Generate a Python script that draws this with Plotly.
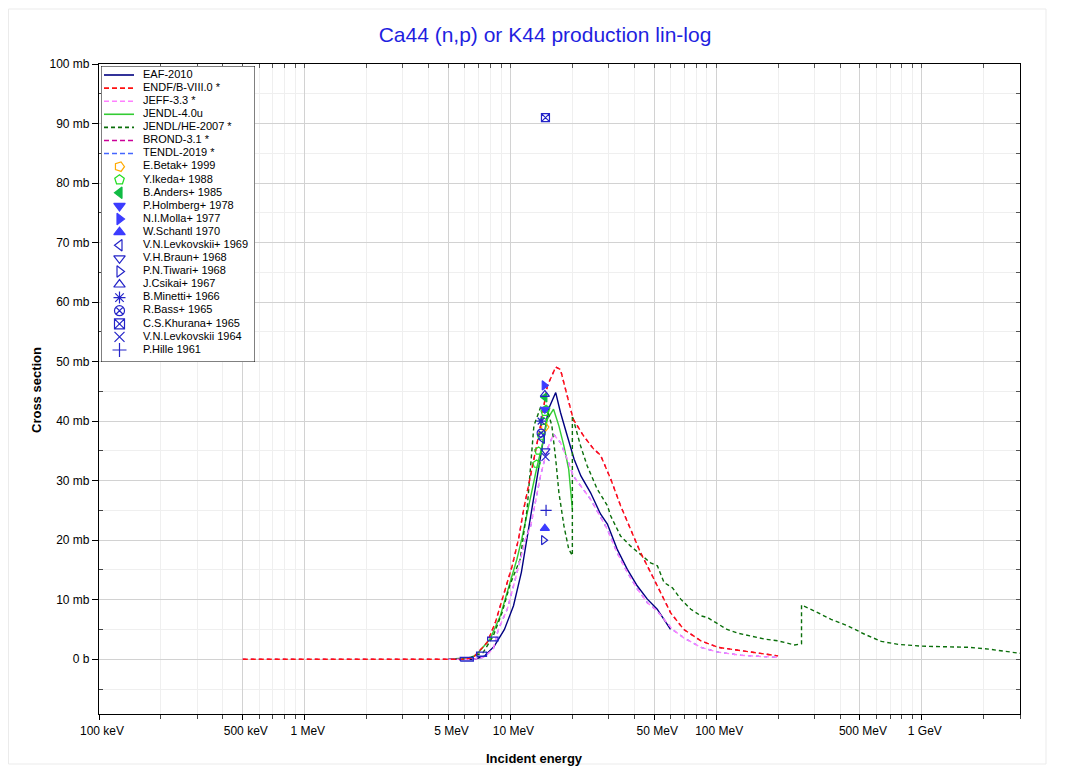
import plotly.graph_objects as go

# ---------------- evaluated data (E in MeV, cross section in mb) ----------------
eaf_E = [5.0, 5.77, 6.67, 7.46, 8.35, 9.35, 10.35, 11.3, 12.7, 14.2, 15.3, 16.6, 17.5, 18.9, 20.4, 22.0, 24.5, 27.4, 29.6, 33.0, 37.0, 41.4, 46.3, 51.7, 56.0, 60.0]
eaf_S = [0, 0, 0, 0.5, 2.2, 5.0, 9.0, 14.6, 25.2, 34.8, 42.0, 44.8, 41.5, 37.5, 33.6, 30.8, 28.0, 24.4, 22.7, 18.5, 15.1, 12.3, 10.1, 8.4, 6.6, 5.0]

endf_E = [0.5, 6.0, 6.6, 7.7, 8.45, 9.25, 10.2, 10.95, 11.6, 13.0, 14.0, 15.1, 16.6, 17.5, 18.9, 20.2, 22.7, 25.4, 27.4, 30.7, 34.3, 38.4, 42.9, 48.0, 53.8, 60.1, 69.6, 84.3, 102, 132, 200]
endf_S = [0, 0, 0.3, 2.8, 6.2, 10.6, 15.7, 20.2, 25.2, 33.6, 39.2, 45.9, 49.1, 48.7, 44.3, 40.3, 37.5, 35.3, 34.3, 30.3, 25.8, 21.8, 17.9, 14.6, 11.2, 7.8, 5.0, 3.1, 2.0, 1.4, 0.56]

jeff_E = [5.0, 6.6, 7.36, 8.25, 8.73, 9.65, 10.55, 11.15, 11.85, 12.55, 14.0, 15.1, 16.2, 17.5, 18.9, 20.2, 22.0, 24.5, 27.4, 29.6, 33.0, 37.0, 41.4, 46.3, 51.7, 61.3, 69.6, 84.3, 102, 132, 200]
jeff_S = [0, 0, 0.3, 1.7, 5.0, 8.4, 13.4, 16.8, 20.2, 22.4, 30.8, 35.3, 37.8, 36.4, 33.6, 30.8, 29.1, 26.9, 23.9, 21.8, 17.9, 14.6, 11.8, 9.5, 8.1, 5.0, 3.6, 2.0, 1.2, 0.67, 0.3]

jendl4_E = [5.5, 6.3, 6.86, 7.96, 8.93, 9.75, 10.75, 11.35, 12.05, 13.4, 14.5, 15.1, 16.2, 17.2, 18.2, 19.2, 20.0]
jendl4_S = [0, 0.1, 0.8, 3.4, 7.3, 11.8, 16.8, 20.2, 24.5, 32.0, 37.0, 40.3, 42.0, 39.2, 35.8, 31.9, 25.2]

jendlhe_E = [5.0, 6.4, 7.36, 8.25, 9.1, 9.95, 11.15, 12.05, 13.0, 14.0, 15.1, 15.9, 16.6, 17.2, 18.2, 19.2, 20.0, 20.0, 21.9, 23.6, 26.4, 29.6, 30.7, 34.3, 38.4, 42.9, 48.0, 51.8, 55.8, 61.3, 67.3, 75.3, 84.3, 90.8, 102, 113, 127, 148, 171, 199, 223, 241, 260, 260, 300, 362, 437, 527, 635, 766, 995, 1345, 1685, 2110, 2640, 3000]
jendlhe_S = [0, 0.3, 1.1, 3.9, 7.8, 12.5, 16.8, 25.2, 39.2, 42.3, 42.0, 39.2, 33.6, 28.0, 22.4, 18.5, 17.4, 40.9, 35.9, 32.5, 28.6, 25.8, 24.1, 20.7, 19.0, 17.6, 16.2, 15.7, 12.9, 12.0, 10.1, 8.4, 7.3, 7.0, 5.9, 5.0, 4.4, 3.9, 3.4, 3.1, 2.7, 2.4, 2.6, 9.1, 8.1, 6.7, 5.6, 4.2, 3.0, 2.5, 2.2, 2.1, 2.0, 1.7, 1.3, 1.0]

brond_E = endf_E
brond_S = endf_S
tendl_E = jeff_E
tendl_S = jeff_S

# ---------------- experimental data (E in MeV, cross section in mb) ----------------
betak_E, betak_S = [14.7], [39.0]
ikeda_E, ikeda_S = [13.4, 13.7, 14.1, 14.4, 14.7, 14.9], [32.8, 35.0, 37.5, 40.0, 41.5, 42.0]
anders_E, anders_S = [14.7], [44.0]
holmberg_E, holmberg_S = [14.7], [42.0]
molla_E, molla_S = [14.6], [46.0]
schantl_E, schantl_S = [14.7], [22.0]
levk69_E, levk69_S = [14.3], [37.0]
braun_E, braun_S = [14.8], [35.0]
tiwari_E, tiwari_S = [14.5], [20.0]
csikai_E, csikai_S = [14.7], [44.5]
minetti_E, minetti_S = [14.1], [40.0]
bass_E, bass_S = [14.1], [38.0]
khurana_E, khurana_S = [14.8], [91.0]
levk64_E, levk64_S = [14.8], [34.0]
hille_E, hille_S = [14.9], [25.0]

# energy-range boxes near threshold (E low, E high, sigma low, sigma high)
box_Elo = [5.7, 6.85, 7.75]
box_Ehi = [6.6, 7.65, 8.7]
box_Slo = [-0.3, 0.5, 3.1]
box_Shi = [0.3, 1.2, 3.7]

x_tickvals = [0.1, 0.5, 1, 5, 10, 50, 100, 500, 1000]
x_ticktext = ["100 keV", "500 keV", "1 MeV", "5 MeV", "10 MeV", "50 MeV", "100 MeV", "500 MeV", "1 GeV"]
y_tickvals = [0, 10, 20, 30, 40, 50, 60, 70, 80, 90, 100]
y_ticktext = ["0 b", "10 mb", "20 mb", "30 mb", "40 mb", "50 mb", "60 mb", "70 mb", "80 mb", "90 mb", "100 mb"]
y_minor = [-5, 5, 15, 25, 35, 45, 55, 65, 75, 85, 95]

FONT = "Liberation Sans, Arial, sans-serif"

eval_series = [
    ("EAF-2010", eaf_E, eaf_S, "#000080", "solid"),
    ("ENDF/B-VIII.0 *", endf_E, endf_S, "#ff1010", "5px,3px"),
    ("JEFF-3.3 *", jeff_E, jeff_S, "#ff80ff", "5px,3px"),
    ("JENDL-4.0u", jendl4_E, jendl4_S, "#33cc33", "solid"),
    ("JENDL/HE-2007 *", jendlhe_E, jendlhe_S, "#0a6e0a", "4px,3px"),
    ("BROND-3.1 *", brond_E, brond_S, "#cc0099", "5px,3px"),
    ("TENDL-2019 *", tendl_E, tendl_S, "#4466ff", "5px,3px"),
]
plot_dash = {5: "3px,5px", 6: "3px,5px"}
draw_order = [6, 5, 0, 3, 4, 2, 1]

OPEN_BLUE = "#2424c8"
FILL_BLUE = "#3c3cff"
exp_series = [
    ("E.Betak+ 1999", betak_E, betak_S, "#ffaa00", "pentagon-open", 90),
    ("Y.Ikeda+ 1988", ikeda_E, ikeda_S, "#22dd22", "pentagon-open", 0),
    ("B.Anders+ 1985", anders_E, anders_S, "#11bb44", "triangle-left", 0),
    ("P.Holmberg+ 1978", holmberg_E, holmberg_S, FILL_BLUE, "triangle-down", 0),
    ("N.I.Molla+ 1977", molla_E, molla_S, FILL_BLUE, "triangle-right", 0),
    ("W.Schantl 1970", schantl_E, schantl_S, FILL_BLUE, "triangle-up", 0),
    ("V.N.Levkovskii+ 1969", levk69_E, levk69_S, OPEN_BLUE, "triangle-left-open", 0),
    ("V.H.Braun+ 1968", braun_E, braun_S, OPEN_BLUE, "triangle-down-open", 0),
    ("P.N.Tiwari+ 1968", tiwari_E, tiwari_S, OPEN_BLUE, "triangle-right-open", 0),
    ("J.Csikai+ 1967", csikai_E, csikai_S, OPEN_BLUE, "triangle-up-open", 0),
    ("B.Minetti+ 1966", minetti_E, minetti_S, OPEN_BLUE, "asterisk-open", 0),
    ("R.Bass+ 1965", bass_E, bass_S, OPEN_BLUE, "circle-x-open", 0),
    ("C.S.Khurana+ 1965", khurana_E, khurana_S, OPEN_BLUE, "square-x-open", 0),
    ("V.N.Levkovskii 1964", levk64_E, levk64_S, OPEN_BLUE, "x-thin-open", 0),
    ("P.Hille 1961", hille_E, hille_S, OPEN_BLUE, "cross-thin-open", 0),
]

fig = go.Figure()

for i in draw_order:
    name, E, S, col, dash = eval_series[i]
    fig.add_trace(go.Scatter(x=E, y=S, mode="lines", name=name, showlegend=False,
                             line=dict(color=col, width=1.4, dash=plot_dash.get(i, dash)),
                             xaxis="x", yaxis="y"))

for lo, hi, slo, shi in zip(box_Elo, box_Ehi, box_Slo, box_Shi):
    fig.add_trace(go.Scatter(x=[lo, hi, hi, lo, lo], y=[slo, slo, shi, shi, slo], mode="lines",
                             showlegend=False, line=dict(color=OPEN_BLUE, width=1.3),
                             xaxis="x", yaxis="y"))

for name, E, S, col, sym, ang in exp_series:
    fig.add_trace(go.Scatter(x=E, y=S, mode="markers", name=name, showlegend=False,
                             marker=dict(symbol=sym, size=8, color=col, angle=ang,
                                         line=dict(color=col, width=1.2)),
                             xaxis="x", yaxis="y"))

# empty trace so the top/right tick-only axes exist
fig.add_trace(go.Scatter(x=[None], y=[None], mode="markers", showlegend=False, hoverinfo="skip",
                         xaxis="x2", yaxis="y2"))

# ---------------- hand-built legend on its own axes ----------------
LX0, LX1, LY0, LY1 = 0, 154, -0.687, 21.917
fig.add_trace(go.Scatter(x=[LX0, LX1, LX1, LX0, LX0], y=[LY0, LY0, LY1, LY1, LY0], mode="lines",
                         fill="toself", fillcolor="white", line=dict(color="black", width=1),
                         showlegend=False, hoverinfo="skip", xaxis="x3", yaxis="y3"))
n_items = len(eval_series) + len(exp_series)
for k, (name, E, S, col, dash) in enumerate(eval_series):
    fig.add_trace(go.Scatter(x=[3, 33], y=[k, k], mode="lines", showlegend=False, hoverinfo="skip",
                             line=dict(color=col, width=1.6, dash=dash), xaxis="x3", yaxis="y3"))
for j, (name, E, S, col, sym, ang) in enumerate(exp_series):
    k = len(eval_series) + j
    fig.add_trace(go.Scatter(x=[18.5], y=[k], mode="markers", showlegend=False, hoverinfo="skip",
                             marker=dict(symbol=sym, size=10, color=col, angle=ang,
                                         line=dict(color=col, width=1.2)),
                             xaxis="x3", yaxis="y3"))
labels = [s[0] for s in eval_series] + [s[0] for s in exp_series]
fig.add_trace(go.Scatter(x=[42] * n_items, y=list(range(n_items)), mode="text", text=labels,
                         textposition="middle right", showlegend=False, hoverinfo="skip",
                         textfont=dict(family=FONT, size=11, color="black"),
                         xaxis="x3", yaxis="y3"))

grid_major = "#d2d2d2"
grid_minor = "#efefef"
x_minor = []
for dec in [0.1, 1, 10, 100, 1000]:
    for m in [2, 3, 4, 6, 7, 8, 9]:
        v = round(m * dec, 6)
        if v <= 3000:
            x_minor.append(v)

X_RANGE = [-1, 3.477]
Y_RANGE = [-9.2, 100]

# page body has an 8 px margin: figure is placed at (8, 8) in the window
FW, FH = 1051, 758
ML, MT, PW, PH = 91, 56, 921, 650
MR = FW - ML - PW
MB = FH - MT - PH


def px_x(sx):
    return (sx - 8 - ML) / PW


def px_y(sy):
    return 1 - (sy - 8 - MT) / PH


fig.update_layout(
    width=FW, height=FH,
    margin=dict(l=ML, r=MR, t=MT, b=MB),
    paper_bgcolor="white", plot_bgcolor="white",
    font=dict(family=FONT, size=12, color="black"),
    title=dict(text="Ca44 (n,p) or K44 production lin-log", x=(545 - 8) / FW, xref="container",
               xanchor="center", y=1 - (35 - 8) / FH, yref="container", yanchor="middle",
               font=dict(family=FONT, size=21, color="#1f1fe0")),
    xaxis=dict(type="log", range=X_RANGE, tickmode="array", tickvals=x_tickvals, ticktext=x_ticktext,
               ticks="outside", ticklen=5, tickcolor="black", showline=True, linecolor="black",
               linewidth=1.2, mirror=True, showgrid=True, gridcolor=grid_major, zeroline=False,
               tickfont=dict(size=12), ticklabelshift=3,
               minor=dict(tickmode="array", tickvals=x_minor, ticks="outside", ticklen=4,
                          tickcolor="#444", showgrid=True, gridcolor=grid_minor)),
    yaxis=dict(range=Y_RANGE, tickmode="array", tickvals=y_tickvals, ticktext=y_ticktext,
               ticks="outside", ticklen=6, tickcolor="black", showline=True, linecolor="black",
               linewidth=1.2, mirror=True, showgrid=True, gridcolor=grid_major, zeroline=False,
               tickfont=dict(size=12),
               minor=dict(tickmode="array", tickvals=y_minor,
                          ticks="inside", ticklen=4, tickcolor="#444", showgrid=True,
                          gridcolor=grid_minor)),
    xaxis2=dict(type="log", range=X_RANGE, overlaying="x", side="top", anchor="y",
                tickmode="array", tickvals=x_tickvals + x_minor, ticks="inside", ticklen=4,
                tickcolor="#555", showticklabels=False, showgrid=False, showline=False,
                zeroline=False, fixedrange=True),
    yaxis2=dict(range=Y_RANGE, overlaying="y", side="right", anchor="x",
                tickmode="array", tickvals=y_tickvals + y_minor, ticks="inside", ticklen=4,
                tickcolor="#555", showticklabels=False, showgrid=False, showline=False,
                zeroline=False, fixedrange=True),
    xaxis3=dict(domain=[px_x(101), px_x(255)], range=[LX0, LX1], visible=False, fixedrange=True,
                anchor="y3"),
    yaxis3=dict(domain=[px_y(362), px_y(66)], range=[LY1, LY0], visible=False, fixedrange=True,
                anchor="x3"),
    shapes=[
        dict(type="rect", xref="paper", yref="paper", x0=px_x(8.5), x1=px_x(1046), y0=px_y(764),
             y1=px_y(9), line=dict(color="#ebebeb", width=1), fillcolor="rgba(0,0,0,0)",
             layer="below"),
    ],
    annotations=[
        dict(text="<b>Incident energy</b>", xref="paper", yref="paper", x=px_x(534),
             y=px_y(758), xanchor="center", yanchor="middle", showarrow=False,
             font=dict(family=FONT, size=13, color="black")),
        dict(text="<b>Cross section</b>", xref="paper", yref="paper", x=px_x(37),
             y=px_y(390), xanchor="center", yanchor="middle", showarrow=False, textangle=-90,
             font=dict(family=FONT, size=13, color="black")),
    ],
)

fig.write_html("out.html")
